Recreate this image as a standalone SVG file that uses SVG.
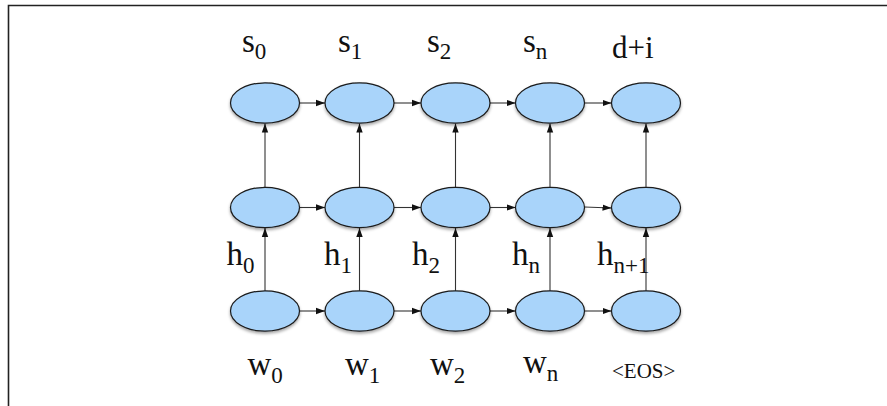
<svg xmlns="http://www.w3.org/2000/svg" width="887" height="406" viewBox="0 0 887 406">
<style>
.n ellipse{fill:#a9d4fa;stroke:#1a1a1a;stroke-width:1.2;filter:url(#sh)}
.c line{stroke:#333;stroke-width:1.1;marker-end:url(#ah)}
text{font-family:"Liberation Serif","Times New Roman",serif;fill:#111}
.m{font-size:33px}
.s{font-size:23px}
.e{font-size:21px}
</style>
<defs>
<filter id="sh" x="-20%" y="-20%" width="140%" height="160%">
<feDropShadow dx="0" dy="2" stdDeviation="1.5" flood-color="#000" flood-opacity="0.35"/>
</filter>
<marker id="ah" markerUnits="userSpaceOnUse" markerWidth="10" markerHeight="8" refX="9" refY="4" orient="auto">
<path d="M0,0.8 L9,4 L0,7.2 Z" fill="#111"/>
</marker>
</defs>
<path d="M8.5,406 V5.5 H887" fill="none" stroke="#222" stroke-width="1.6"/>
<g id="connectors" class="c">
<line x1="299.5" y1="103" x2="325" y2="103"/>
<line x1="394" y1="103" x2="421" y2="103"/>
<line x1="490" y1="103" x2="515.5" y2="103"/>
<line x1="584.5" y1="103" x2="611.5" y2="103"/>
<line x1="299.5" y1="207.5" x2="325" y2="207.5"/>
<line x1="394" y1="207.5" x2="421" y2="207.5"/>
<line x1="490" y1="207.5" x2="515.5" y2="207.5"/>
<line x1="584.5" y1="207" x2="611.5" y2="208"/>
<line x1="299.5" y1="311" x2="325" y2="311"/>
<line x1="394" y1="311" x2="421" y2="311"/>
<line x1="490" y1="311" x2="515.5" y2="311"/>
<line x1="584.5" y1="311" x2="611.5" y2="311"/>
<line x1="265" y1="291" x2="265" y2="228"/>
<line x1="359.5" y1="291" x2="359.5" y2="228"/>
<line x1="455.5" y1="291" x2="455.5" y2="228"/>
<line x1="550" y1="291" x2="550" y2="228"/>
<line x1="646" y1="291" x2="646" y2="228"/>
<line x1="265" y1="187" x2="265" y2="123.5"/>
<line x1="359.5" y1="187" x2="359.5" y2="123.5"/>
<line x1="455.5" y1="187" x2="455.5" y2="123.5"/>
<line x1="550" y1="187" x2="550" y2="123.5"/>
<line x1="646" y1="187" x2="646" y2="123.5"/>
</g>
<g id="s0" class="n"><ellipse cx="265" cy="103" rx="34.5" ry="20.2"/></g>
<g id="s1" class="n"><ellipse cx="359.5" cy="103" rx="34.5" ry="20.2"/></g>
<g id="s2" class="n"><ellipse cx="455.5" cy="103" rx="34.5" ry="20.2"/></g>
<g id="sn" class="n"><ellipse cx="550" cy="103" rx="34.5" ry="20.2"/></g>
<g id="di" class="n"><ellipse cx="646" cy="103" rx="34.5" ry="20.2"/></g>
<g id="m0" class="n"><ellipse cx="265" cy="207.5" rx="34.5" ry="20.2"/></g>
<g id="m1" class="n"><ellipse cx="359.5" cy="207.5" rx="34.5" ry="20.2"/></g>
<g id="m2" class="n"><ellipse cx="455.5" cy="207.5" rx="34.5" ry="20.2"/></g>
<g id="mn" class="n"><ellipse cx="550" cy="207.5" rx="34.5" ry="20.2"/></g>
<g id="mn1" class="n"><ellipse cx="646" cy="207.5" rx="34.5" ry="20.2"/></g>
<g id="w0n" class="n"><ellipse cx="265" cy="311" rx="34.5" ry="20.2"/></g>
<g id="w1n" class="n"><ellipse cx="359.5" cy="311" rx="34.5" ry="20.2"/></g>
<g id="w2n" class="n"><ellipse cx="455.5" cy="311" rx="34.5" ry="20.2"/></g>
<g id="wnn" class="n"><ellipse cx="550" cy="311" rx="34.5" ry="20.2"/></g>
<g id="eosn" class="n"><ellipse cx="646" cy="311" rx="34.5" ry="20.2"/></g>
<g id="labels">
<text x="242" y="52"><tspan class="m">s</tspan><tspan class="s" dy="7">0</tspan></text>
<text x="338" y="52"><tspan class="m">s</tspan><tspan class="s" dy="7">1</tspan></text>
<text x="427" y="52"><tspan class="m">s</tspan><tspan class="s" dy="7">2</tspan></text>
<text x="523" y="52"><tspan class="m">s</tspan><tspan class="s" dy="7">n</tspan></text>
<text x="612" y="58" style="font-size:31px">d+i</text>
<text x="226.5" y="265"><tspan class="m">h</tspan><tspan class="s" dy="8">0</tspan></text>
<text x="324" y="265"><tspan class="m">h</tspan><tspan class="s" dy="8">1</tspan></text>
<text x="412" y="265"><tspan class="m">h</tspan><tspan class="s" dy="8">2</tspan></text>
<text x="512" y="265"><tspan class="m">h</tspan><tspan class="s" dy="8">n</tspan></text>
<text x="597" y="265"><tspan class="m">h</tspan><tspan class="s" dy="8">n+1</tspan></text>
<text x="247.5" y="375"><tspan class="m">w</tspan><tspan class="s" dy="8">0</tspan></text>
<text x="345" y="375"><tspan class="m">w</tspan><tspan class="s" dy="8">1</tspan></text>
<text x="430" y="375"><tspan class="m">w</tspan><tspan class="s" dy="8">2</tspan></text>
<text x="523" y="373"><tspan class="m">w</tspan><tspan class="s" dy="8">n</tspan></text>
<text x="612" y="378" class="e">&lt;EOS&gt;</text>
</g>
</svg>
